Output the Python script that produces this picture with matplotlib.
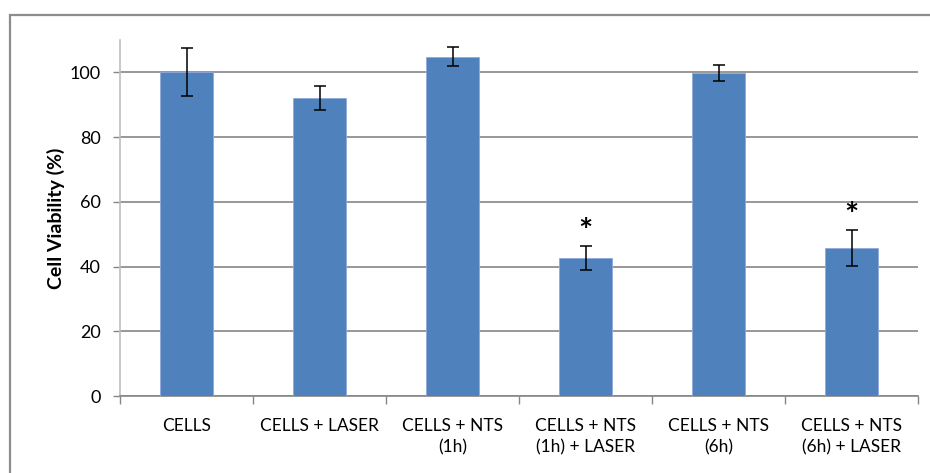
import matplotlib
matplotlib.use("Agg")
import matplotlib.pyplot as plt
from matplotlib.patches import Rectangle
import numpy as np

categories = ["CELLS", "CELLS + LASER", "CELLS + NTS\n(1h)", "CELLS + NTS\n(1h) + LASER",
              "CELLS + NTS\n(6h)", "CELLS + NTS\n(6h) + LASER"]
viability = [100, 92, 104.9, 42.6, 99.8, 45.7]
errors = [7.4, 3.7, 3.0, 3.6, 2.5, 5.5]
significant = [False, False, False, True, False, True]
yticks = [0, 20, 40, 60, 80, 100]

plt.rcParams['font.family'] = ['Lato', 'DejaVu Sans']

fig = plt.figure(figsize=(9.30, 4.73), dpi=100)
ax = fig.add_axes([120/930, 1-396/473, (918-120)/930, (396-40)/473])

x = np.arange(len(categories))
ax.bar(x, viability, width=0.4, color="#4F81BD", edgecolor="#8FAADC", linewidth=0.6, zorder=3)
ax.errorbar(x, viability, yerr=errors, fmt="none", ecolor="black", elinewidth=1.1,
            capsize=4.5, capthick=1.1, zorder=4)
for xi, v, e, s in zip(x, viability, errors, significant):
    if s:
        ax.text(xi, v + e + 4.2, "*", ha="center", va="center", fontsize=24, fontweight="bold")

ax.set_xlim(-0.5, len(categories) - 0.5)
ax.set_ylim(0, 110)
ax.set_yticks(yticks)
ax.set_yticklabels([str(t) for t in yticks], fontsize=13)
ax.set_xticks(x)
ax.set_xticklabels(categories, fontsize=12.5, linespacing=1.35)
ax.set_xticks(np.arange(len(categories) + 1) - 0.5, minor=True)
ax.tick_params(axis="x", which="major", length=0, pad=16)
ax.tick_params(axis="x", which="minor", length=6, color="#868686", width=1)
ax.tick_params(axis="y", length=5, color="#868686", width=1, pad=9)

ax.yaxis.grid(True, color="#868686", linewidth=1.2, zorder=0)
for side in ["top", "right"]:
    ax.spines[side].set_visible(False)
ax.spines["left"].set_color("#BFBFBF")
ax.spines["left"].set_linewidth(1.2)
ax.spines["bottom"].set_color("#868686")
ax.spines["bottom"].set_linewidth(1.2)
ax.set_axisbelow(True)

ax.set_ylabel("Cell Viability (%)", fontsize=14, fontweight="bold", labelpad=3)

fig.patches.append(Rectangle((10/930, -0.1), 1.2, 1 - 15/473 + 0.1, transform=fig.transFigure,
                             fill=False, edgecolor="#8C8C8C", linewidth=1.6, zorder=10))

fig.savefig("out.png", dpi=100)
